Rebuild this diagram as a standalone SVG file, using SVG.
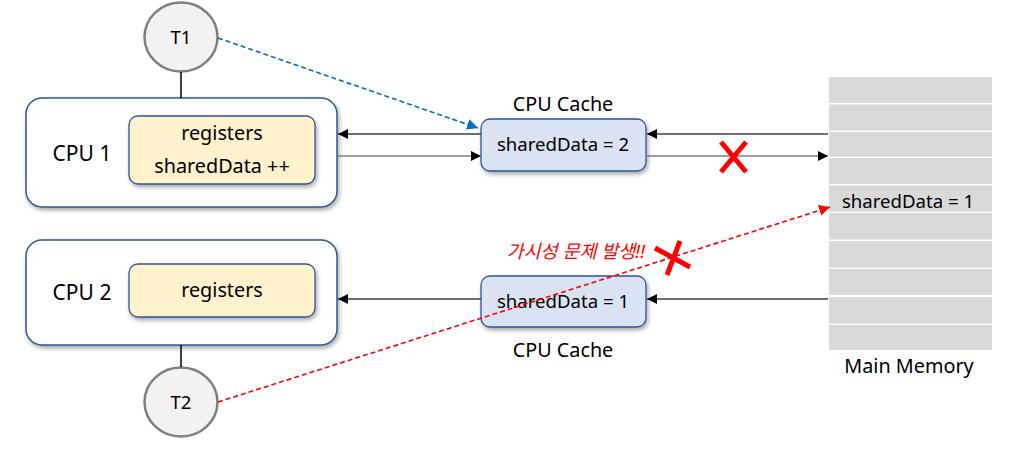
<svg xmlns="http://www.w3.org/2000/svg" width="1018" height="457" viewBox="0 0 1018 457">
<style>
text{font-family:"Noto Sans","Noto Sans CJK KR",sans-serif;fill:#000;}
.cpu{fill:#fff;stroke:#2f5597;stroke-width:1.5;filter:url(#sh);}
.reg{fill:#fff2cc;stroke:#2f5597;stroke-width:1.3;filter:url(#sh);}
.cache{fill:#dae3f3;stroke:#2f5597;stroke-width:1.3;filter:url(#sh);}
.thr{fill:#f2f2f2;stroke:#7f7f7f;stroke-width:2.5;}
.cell{fill:#d9d9d9;}
.t18{font-size:19.8px;text-anchor:middle;}
.t17{font-size:18.6px;text-anchor:middle;}
.ln{fill:none;stroke:#404040;stroke-width:1.3;}
.ln2{fill:none;stroke:#7f7f7f;stroke-width:1.5;}
.x{stroke:#ff0000;stroke-width:5;fill:none;}
</style>
<defs>
<filter id="sh" x="-10%" y="-10%" width="120%" height="130%">
<feDropShadow dx="1.5" dy="2.5" stdDeviation="2" flood-color="#000" flood-opacity="0.35"/>
</filter>
<marker id="ah" viewBox="0 0 10 10" refX="10" refY="5" markerWidth="10" markerHeight="10" markerUnits="userSpaceOnUse" orient="auto">
<path d="M0,0 L10,5 L0,10 z" fill="#000"/>
</marker>
<marker id="ahb" viewBox="0 0 10 10" refX="10" refY="5" markerWidth="11" markerHeight="11" markerUnits="userSpaceOnUse" orient="auto">
<path d="M0,0 L10,5 L0,10 z" fill="#0070c0"/>
</marker>
<marker id="ahr" viewBox="0 0 10 10" refX="10" refY="5" markerWidth="11" markerHeight="11" markerUnits="userSpaceOnUse" orient="auto">
<path d="M0,0 L10,5 L0,10 z" fill="#ff0000"/>
</marker>
</defs>

<g id="memory">
<rect class="cell" x="829" y="77" width="163" height="26"/>
<rect class="cell" x="829" y="104.5" width="163" height="26"/>
<rect class="cell" x="829" y="132" width="163" height="24.5"/>
<rect class="cell" x="829" y="158" width="163" height="26"/>
<rect class="cell" x="829" y="185.5" width="163" height="26"/>
<rect class="cell" x="829" y="213" width="163" height="26.5"/>
<rect class="cell" x="829" y="241" width="163" height="26.5"/>
<rect class="cell" x="829" y="269" width="163" height="26"/>
<rect class="cell" x="829" y="297" width="163" height="26.5"/>
<rect class="cell" x="829" y="325" width="163" height="25"/>
<text class="t17" x="908" y="208">sharedData = 1</text>
<text class="t18" x="909" y="373">Main Memory</text>
</g>

<g id="T1">
<ellipse class="thr" cx="181" cy="37" rx="36.5" ry="34.5"/>
<text class="t17" x="181" y="44">T1</text>
</g>

<g id="CPU1">
<rect class="cpu" x="26" y="98" width="311" height="109" rx="16"/>
<text x="82" y="161" font-size="21" text-anchor="middle">CPU 1</text>
<rect class="reg" x="129" y="116" width="186" height="68" rx="9"/>
<text class="t18" x="222" y="140">registers</text>
<text class="t18" x="222" y="173">sharedData ++</text>
</g>

<g id="CPU2">
<rect class="cpu" x="26" y="240" width="311" height="105" rx="16"/>
<text x="82" y="300" font-size="21" text-anchor="middle">CPU 2</text>
<rect class="reg" x="129" y="264" width="186" height="53" rx="9"/>
<text class="t18" x="222" y="297">registers</text>
</g>

<g id="T2">
<ellipse class="thr" cx="181" cy="402" rx="36.5" ry="34.5"/>
<text class="t17" x="181" y="409">T2</text>
</g>

<g id="cache1">
<text class="t18" x="563" y="111">CPU Cache</text>
<rect class="cache" x="481" y="119" width="165" height="52" rx="9"/>
<text class="t17" x="563" y="151">sharedData = 2</text>
</g>

<g id="cache2">
<rect class="cache" x="481" y="276" width="165" height="51" rx="9"/>
<text class="t17" x="563" y="308">sharedData = 1</text>
<text class="t18" x="563" y="357">CPU Cache</text>
</g>

<g id="connectors">
<line x1="181" y1="72" x2="181" y2="98" stroke="#000" stroke-width="1.5"/>
<line x1="181" y1="345" x2="181" y2="367" stroke="#000" stroke-width="1.5"/>
<line class="ln" x1="481" y1="134" x2="338" y2="134" marker-end="url(#ah)"/>
<line class="ln2" x1="338" y1="156" x2="481" y2="156" marker-end="url(#ah)"/>
<line class="ln" x1="828" y1="134" x2="647" y2="134" marker-end="url(#ah)"/>
<line class="ln2" x1="647" y1="156" x2="828" y2="156" marker-end="url(#ah)"/>
<line class="ln" x1="481" y1="299" x2="338" y2="299" marker-end="url(#ah)" stroke="#000"/>
<line class="ln" x1="828" y1="299" x2="647" y2="299" marker-end="url(#ah)" stroke="#000"/>
<line x1="218" y1="38" x2="478" y2="128" stroke="#0070c0" stroke-width="1.6" stroke-dasharray="5,3" marker-end="url(#ahb)"/>
<line x1="218" y1="402" x2="830" y2="207" stroke="#ff0000" stroke-width="1.6" stroke-dasharray="5,3" marker-end="url(#ahr)"/>
</g>

<g id="marks">
<path class="x" d="M721,142 L746,172 M746,142 L721,172"/>
<path class="x" d="M655,248 L690,267 M680,241 L667,275"/>
<text x="645" y="258" font-size="18.5" font-style="italic" text-anchor="end" style="fill:#ff0000">가시성 문제 발생!!</text>
</g>
</svg>
